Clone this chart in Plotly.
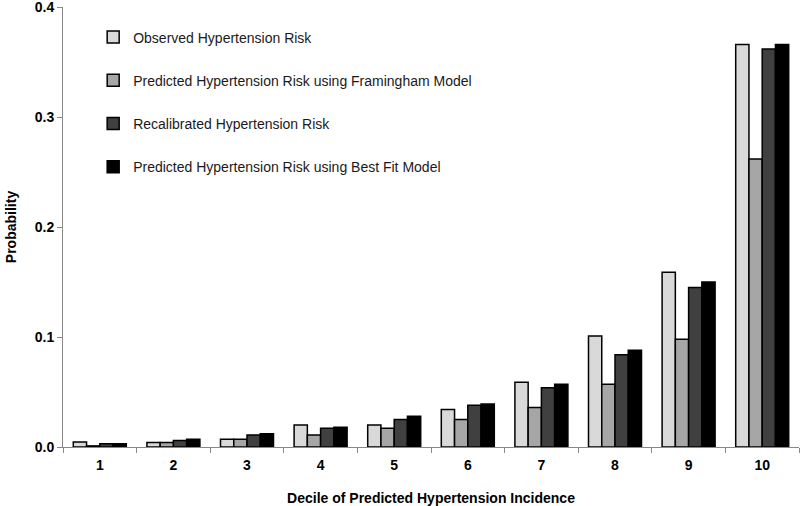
import plotly.graph_objects as go

deciles = ["1", "2", "3", "4", "5", "6", "7", "8", "9", "10"]
observed = [0.0045, 0.004, 0.007, 0.020, 0.020, 0.034, 0.059, 0.101, 0.159, 0.366]
framingham = [0.001, 0.004, 0.007, 0.011, 0.017, 0.025, 0.036, 0.057, 0.098, 0.262]
recalibrated = [0.003, 0.006, 0.011, 0.017, 0.025, 0.038, 0.054, 0.084, 0.145, 0.362]
best_fit = [0.003, 0.007, 0.012, 0.018, 0.028, 0.039, 0.057, 0.088, 0.150, 0.366]
y_ticks = [0.0, 0.1, 0.2, 0.3, 0.4]
y_tick_labels = ["0.0", "0.1", "0.2", "0.3", "0.4"]

series = [
    ("Observed Hypertension Risk", observed, "#d9d9d9"),
    ("Predicted Hypertension Risk using Framingham Model", framingham, "#a6a6a6"),
    ("Recalibrated Hypertension Risk", recalibrated, "#404040"),
    ("Predicted Hypertension Risk using Best Fit Model", best_fit, "#000000"),
]

fig = go.Figure()
for i, (name, vals, col) in enumerate(series):
    fig.add_trace(go.Bar(
        x=deciles, y=vals, name=name, legendgroup=f"g{i}",
        marker=dict(color=col, line=dict(color="#000000", width=1.5)),
    ))

font = "Liberation Sans, Arial, sans-serif"
fig.update_layout(
    width=800, height=506,
    margin=dict(l=63, r=1, t=7, b=59),
    paper_bgcolor="white", plot_bgcolor="white",
    barmode="group", bargap=0.28, bargroupgap=0,
    font=dict(family=font, size=14, color="#000000"),
    legend=dict(
        x=0.041, y=0.967, xanchor="left", yanchor="top",
        font=dict(family=font, size=14, color="#1a1a1a"),
        tracegroupgap=22, bgcolor="rgba(0,0,0,0)",
        itemwidth=30,
    ),
    showlegend=True,
)
fig.update_xaxes(
    type="category", automargin=False,
    showline=True, linecolor="#888888", linewidth=1,
    ticks="outside", tickson="boundaries", ticklen=5, tickcolor="#888888",
    ticklabelstandoff=5,
    tickfont=dict(family=font, size=14, color="#000000", weight="bold"),
    title=dict(text="<b>Decile of Predicted Hypertension Incidence</b>",
               font=dict(family=font, size=14, color="#000000"), standoff=28),
    showgrid=False,
)
fig.update_yaxes(
    range=[0, 0.4002], tickvals=y_ticks, ticktext=y_tick_labels, automargin=False,
    ticklabeloverflow="allow",
    showline=True, linecolor="#888888", linewidth=1,
    ticks="outside", ticklen=5, tickcolor="#888888",
    tickfont=dict(family=font, size=14, color="#000000", weight="bold"),
    title=dict(text="<b>Probability</b>",
               font=dict(family=font, size=14, color="#000000"), standoff=14),
    showgrid=False, zeroline=False,
)

fig.write_html("out.html", config={"displayModeBar": False},
               post_script="document.body.style.margin='0';")
